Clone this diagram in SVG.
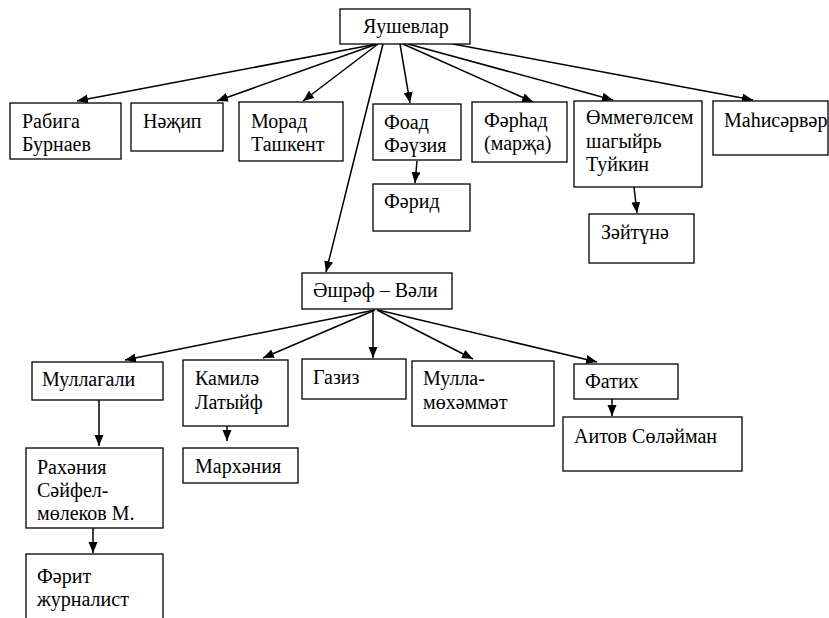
<svg xmlns="http://www.w3.org/2000/svg" width="829" height="618" viewBox="0 0 829 618">
<style>
.box{fill:#fff;stroke:#000;stroke-width:1.3}
.t{font-family:"Liberation Serif","Times New Roman",serif;font-size:20px;fill:#000}
.c{stroke:#000;stroke-width:1.5;fill:none;marker-end:url(#ah)}
</style>
<defs>
<marker id="ah" markerUnits="userSpaceOnUse" markerWidth="12" markerHeight="10" refX="11" refY="4.5" orient="auto">
<path d="M0,0 L11,4.5 L0,9 z" fill="#000"/>
</marker>
</defs>
<rect width="829" height="618" fill="#fff"/>
<g id="connectors">
<line class="c" x1="377" y1="44" x2="77" y2="101"/>
<line class="c" x1="377" y1="44" x2="217" y2="101"/>
<line class="c" x1="378" y1="44" x2="303" y2="101"/>
<line class="c" x1="383" y1="44" x2="326" y2="272"/>
<line class="c" x1="400" y1="44" x2="410" y2="103"/>
<line class="c" x1="403" y1="44" x2="533" y2="102"/>
<line class="c" x1="408" y1="44" x2="613" y2="100"/>
<line class="c" x1="453" y1="44" x2="753" y2="100"/>
<line class="c" x1="417" y1="161" x2="415" y2="183"/>
<line class="c" x1="634" y1="187" x2="637" y2="213"/>
<line class="c" x1="375" y1="310" x2="125" y2="360"/>
<line class="c" x1="375" y1="310" x2="263" y2="358"/>
<line class="c" x1="373" y1="310" x2="373" y2="358"/>
<line class="c" x1="377" y1="310" x2="473" y2="359"/>
<line class="c" x1="378" y1="310" x2="597" y2="362"/>
<line class="c" x1="99" y1="400" x2="99" y2="446"/>
<line class="c" x1="227" y1="426" x2="227" y2="441"/>
<line class="c" x1="93" y1="528" x2="93" y2="553"/>
<line class="c" x1="612" y1="399" x2="612" y2="416"/>
</g>
<g id="n-yaushevlar"><rect class="box" x="340" y="9" width="130" height="35"/><text class="t" x="363" y="33">Яушевлар</text></g>
<g id="n-rabiga"><rect class="box" x="10" y="103" width="111" height="56"/><text class="t" x="22" y="128">Рабига</text><text class="t" x="22" y="151">Бурнаев</text></g>
<g id="n-nazhip"><rect class="box" x="131" y="103" width="92" height="48"/><text class="t" x="143" y="128">Нәҗип</text></g>
<g id="n-morad"><rect class="box" x="239" y="102" width="104" height="59"/><text class="t" x="251" y="128">Морад</text><text class="t" x="251" y="151">Ташкент</text></g>
<g id="n-foad"><rect class="box" x="373" y="104" width="88" height="56"/><text class="t" x="384" y="129">Фоад</text><text class="t" x="384" y="152">Фәүзия</text></g>
<g id="n-farid"><rect class="box" x="373" y="184" width="97" height="47"/><text class="t" x="384" y="208">Фәрид</text></g>
<g id="n-farhad"><rect class="box" x="472" y="102" width="95" height="60"/><text class="t" x="484" y="127">Фәрһад</text><text class="t" x="484" y="150">(марҗа)</text></g>
<g id="n-ommegolsem"><rect class="box" x="574" y="101" width="128" height="86"/><text class="t" x="586" y="124">Өммегөлсем</text><text class="t" x="586" y="148">шагыйрь</text><text class="t" x="586" y="171">Туйкин</text></g>
<g id="n-mahisarvar"><rect class="box" x="713" y="101" width="115" height="54"/><text class="t" x="724" y="127">Маһисәрвәр</text></g>
<g id="n-zaytuna"><rect class="box" x="589" y="214" width="105" height="49"/><text class="t" x="601" y="239">Зәйтүнә</text></g>
<g id="n-ashraf"><rect class="box" x="302" y="273" width="150" height="36"/><text class="t" x="313" y="297">Әшрәф – Вәли</text></g>
<g id="n-mullagali"><rect class="box" x="32" y="362" width="131" height="38"/><text class="t" x="42" y="386">Муллагали</text></g>
<g id="n-kamila"><rect class="box" x="183" y="360" width="105" height="66"/><text class="t" x="195" y="385">Камилә</text><text class="t" x="195" y="409">Латыйф</text></g>
<g id="n-gaziz"><rect class="box" x="302" y="359" width="104" height="40"/><text class="t" x="313" y="384">Газиз</text></g>
<g id="n-mullamohammat"><rect class="box" x="412" y="361" width="142" height="65"/><text class="t" x="423" y="385">Мулла-</text><text class="t" x="423" y="409">мөхәммәт</text></g>
<g id="n-fatih"><rect class="box" x="574" y="364" width="104" height="35"/><text class="t" x="585" y="388">Фатих</text></g>
<g id="n-aitov"><rect class="box" x="563" y="417" width="179" height="54"/><text class="t" x="574" y="443">Аитов Сөләйман</text></g>
<g id="n-marhania"><rect class="box" x="183" y="448" width="115" height="35"/><text class="t" x="195" y="473">Мархәния</text></g>
<g id="n-rahania"><rect class="box" x="26" y="448" width="137" height="80"/><text class="t" x="37" y="474">Рахәния</text><text class="t" x="37" y="497">Сәйфел-</text><text class="t" x="37" y="520">мөлеков М.</text></g>
<g id="n-farit"><rect class="box" x="26" y="554" width="137" height="75"/><text class="t" x="37" y="583">Фәрит</text><text class="t" x="37" y="606">журналист</text></g>
</svg>
